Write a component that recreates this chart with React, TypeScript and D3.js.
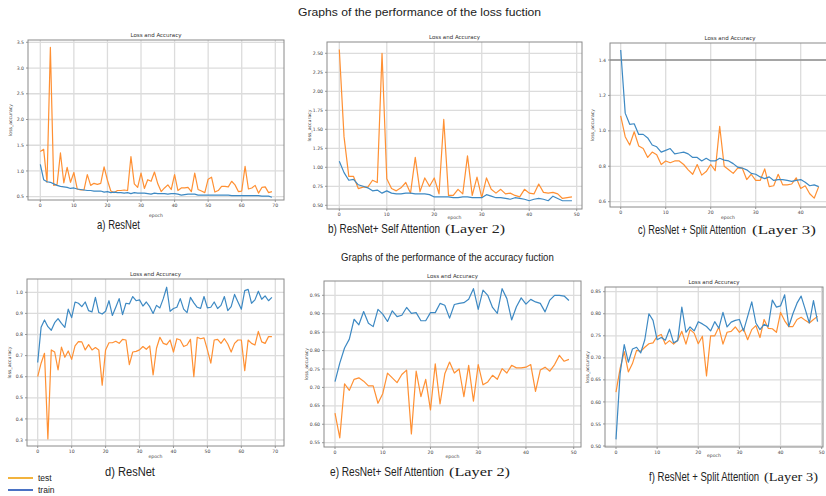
import React, {useLayoutEffect, useRef, useState} from 'react'
import * as d3 from 'd3'

// a) ResNet loss, 70 epochs
const lossResTrain = [1.13,0.83,0.79,0.78,0.75,0.72,0.70,0.69,0.68,0.66,0.67,0.65,0.64,0.63,0.62,0.62,0.61,0.61,0.61,0.59,0.60,0.58,0.59,0.58,0.58,0.57,0.58,0.56,0.58,0.57,0.57,0.57,0.56,0.55,0.57,0.56,0.56,0.56,0.55,0.56,0.56,0.55,0.53,0.54,0.55,0.55,0.55,0.53,0.53,0.53,0.53,0.53,0.53,0.53,0.53,0.53,0.53,0.52,0.52,0.52,0.52,0.52,0.52,0.52,0.52,0.52,0.51,0.51,0.51,0.49]
const lossResTest = [1.38,1.42,0.78,3.4,0.72,0.74,1.35,0.77,1.07,0.78,0.97,0.65,0.63,0.63,0.93,0.72,0.76,0.74,0.76,1.08,0.82,0.61,0.58,0.62,0.62,0.63,0.62,1.28,0.75,0.68,0.96,0.66,0.83,0.80,0.98,0.75,0.60,0.67,0.73,0.64,0.93,0.62,0.67,0.67,0.68,0.60,0.96,0.64,0.61,0.58,0.84,0.88,0.59,0.62,0.70,0.70,0.69,0.80,0.73,0.60,0.61,1.09,0.65,0.67,0.72,0.57,0.68,0.69,0.58,0.60]

// b) ResNet + Self Attention loss, 50 epochs
const lossSelfTrain = [1.08,0.93,0.83,0.84,0.77,0.75,0.73,0.69,0.70,0.66,0.69,0.66,0.65,0.65,0.66,0.66,0.65,0.65,0.65,0.64,0.61,0.61,0.61,0.61,0.60,0.60,0.61,0.61,0.60,0.60,0.60,0.64,0.62,0.60,0.60,0.59,0.58,0.60,0.59,0.58,0.56,0.58,0.59,0.58,0.56,0.62,0.59,0.56,0.56,0.56]
const lossSelfTest = [2.55,1.40,0.88,0.88,0.72,0.74,0.74,0.83,0.80,2.50,0.85,0.72,0.69,0.73,0.80,0.66,1.13,0.68,0.86,0.75,0.86,0.65,1.63,0.63,0.63,0.71,0.65,1.15,0.63,0.87,0.60,0.86,0.71,0.66,0.71,0.65,0.66,0.63,0.61,0.71,0.66,0.65,0.78,0.67,0.66,0.67,0.65,0.59,0.60,0.61]

// c) ResNet + Split Attention loss, 45 epochs
const lossSplitTrain = [1.456,1.10,1.037,1.04,0.98,0.98,0.96,0.92,0.91,0.88,0.89,0.90,0.87,0.875,0.88,0.87,0.85,0.85,0.83,0.845,0.83,0.83,0.845,0.835,0.83,0.815,0.795,0.79,0.78,0.76,0.755,0.74,0.73,0.74,0.72,0.725,0.725,0.72,0.715,0.72,0.725,0.71,0.69,0.695,0.685]
const lossSplitTest = [1.085,0.967,0.92,0.995,0.915,0.90,0.85,0.88,0.865,0.81,0.83,0.82,0.83,0.83,0.81,0.78,0.755,0.81,0.75,0.77,0.81,0.775,1.025,0.80,0.78,0.76,0.79,0.79,0.725,0.755,0.72,0.72,0.785,0.685,0.69,0.755,0.695,0.695,0.70,0.735,0.675,0.69,0.645,0.62,0.685]

// d) ResNet accuracy, 70 epochs
const accResTrain = [0.667,0.834,0.869,0.837,0.82,0.856,0.875,0.853,0.834,0.92,0.88,0.954,0.948,0.932,0.954,0.913,0.907,0.976,0.904,0.897,0.91,0.96,0.89,0.929,0.97,0.894,0.948,0.945,0.98,0.96,0.964,0.935,0.954,0.932,0.90,0.938,0.926,0.97,1.024,0.91,0.923,0.929,0.97,0.92,0.904,0.976,0.95,0.929,0.924,0.98,0.926,0.929,0.954,0.923,0.938,0.98,0.913,0.932,0.99,0.954,0.92,1.008,1.014,0.948,0.964,1.005,0.967,0.983,0.96,0.976]
const accResTest = [0.60,0.664,0.711,0.305,0.727,0.717,0.632,0.74,0.692,0.722,0.682,0.746,0.766,0.765,0.727,0.752,0.727,0.738,0.727,0.56,0.727,0.761,0.761,0.768,0.758,0.777,0.774,0.657,0.717,0.72,0.727,0.743,0.73,0.746,0.608,0.735,0.787,0.758,0.752,0.774,0.717,0.78,0.774,0.743,0.75,0.777,0.60,0.787,0.78,0.784,0.727,0.664,0.774,0.777,0.758,0.78,0.755,0.717,0.758,0.774,0.774,0.629,0.774,0.758,0.75,0.815,0.765,0.758,0.79,0.79]

// e) ResNet + Self Attention accuracy, 50 epochs
const accSelfTrain = [0.716,0.766,0.807,0.831,0.885,0.87,0.906,0.874,0.865,0.912,0.899,0.879,0.908,0.892,0.896,0.917,0.901,0.903,0.881,0.881,0.903,0.903,0.928,0.923,0.888,0.925,0.928,0.93,0.939,0.968,0.912,0.964,0.95,0.917,0.901,0.968,0.941,0.883,0.919,0.943,0.926,0.939,0.932,0.928,0.905,0.937,0.95,0.95,0.948,0.936]
const accSelfTest = [0.63,0.563,0.71,0.692,0.722,0.726,0.717,0.704,0.704,0.657,0.683,0.739,0.726,0.713,0.735,0.747,0.574,0.744,0.675,0.722,0.639,0.764,0.655,0.737,0.769,0.739,0.75,0.675,0.76,0.663,0.762,0.707,0.715,0.733,0.722,0.751,0.739,0.76,0.753,0.753,0.755,0.762,0.689,0.747,0.755,0.744,0.762,0.787,0.771,0.776]

// f) ResNet + Split Attention accuracy, 50 epochs
const accSplitTrain = [0.515,0.664,0.73,0.69,0.72,0.724,0.711,0.741,0.80,0.785,0.741,0.746,0.74,0.765,0.734,0.739,0.815,0.758,0.77,0.761,0.782,0.777,0.771,0.761,0.782,0.767,0.803,0.77,0.781,0.785,0.787,0.761,0.794,0.827,0.779,0.764,0.776,0.771,0.831,0.815,0.818,0.843,0.771,0.80,0.824,0.84,0.81,0.779,0.83,0.782]
const accSplitTest = [0.622,0.676,0.714,0.668,0.687,0.717,0.715,0.724,0.732,0.734,0.749,0.753,0.731,0.739,0.731,0.74,0.76,0.731,0.764,0.756,0.732,0.749,0.659,0.75,0.75,0.77,0.731,0.758,0.76,0.77,0.758,0.766,0.741,0.764,0.773,0.746,0.787,0.767,0.766,0.758,0.803,0.784,0.771,0.771,0.787,0.792,0.785,0.779,0.787,0.794]

const xTicks70 = [0,10,20,30,40,50,60,70]
const xTicks50 = [0,10,20,30,40,50]
const xTicks40 = [0,10,20,30,40]

const BLUE = '#3d89c3'
const ORANGE = '#ff9033'
const GRID = '#dcdcdc'
const SMALL = 'DejaVu Sans, sans-serif'
const SANS = 'Liberation Sans, Arial, sans-serif'

const Panel = ({box, xd, xr, yd, yr, xTicks, yTicks, fmt, train, test, darkY, epochY, epochX}) => {
  const x = d3.scaleLinear().domain(xd).range(xr)
  const y = d3.scaleLinear().domain(yd).range(yr)
  const line = d3.line().x((d, i) => x(i)).y(d => y(d))
  const cx = epochX ?? (box.x0 + box.x1) / 2
  const plotCx = (box.x0 + box.x1) / 2
  return (
    <g>
      <defs>
        <clipPath id={`clip${box.x0}${box.y0}`}>
          <rect x={box.x0} y={box.y0} width={box.x1 - box.x0} height={box.y1 - box.y0}/>
        </clipPath>
      </defs>
      <rect x={box.x0} y={box.y0} width={box.x1 - box.x0} height={box.y1 - box.y0} fill="white"/>
      {xTicks.map((t, i) =>
        <g key={'x' + i}>
          <line x1={x(t)} x2={x(t)} y1={box.y0} y2={box.y1} stroke={GRID} strokeWidth={1.3}/>
          <line x1={x(t)} x2={x(t)} y1={box.y1} y2={box.y1 + 2} stroke="#555" strokeWidth={0.6}/>
          <text x={x(t)} y={box.y1 + 7} fontSize={4.6} textAnchor="middle" fill="#444" fontFamily={SMALL}>{t}</text>
        </g>
      )}
      {yTicks.map((t, i) =>
        <g key={'y' + i}>
          <line x1={box.x0} x2={box.x1} y1={y(t)} y2={y(t)} stroke={GRID} strokeWidth={1.3}/>
          <line x1={box.x0 - 2} x2={box.x0} y1={y(t)} y2={y(t)} stroke="#555" strokeWidth={0.6}/>
          <text x={box.x0 - 4} y={y(t)} dy="0.35em" fontSize={4.6} textAnchor="end" fill="#444" fontFamily={SMALL}>{d3.format(fmt)(t)}</text>
        </g>
      )}
      {darkY !== undefined &&
        <line x1={box.x0} x2={box.x1} y1={y(darkY)} y2={y(darkY)} stroke="#666" strokeWidth={1}/>}
      <g clipPath={`url(#clip${box.x0}${box.y0})`}>
        <path d={line(test)} fill="none" stroke={ORANGE} strokeWidth={1.2} strokeLinejoin="round"/>
        <path d={line(train)} fill="none" stroke={BLUE} strokeWidth={1.2} strokeLinejoin="round"/>
      </g>
      <rect x={box.x0} y={box.y0} width={box.x1 - box.x0} height={box.y1 - box.y0} fill="none" stroke="#8a8a8a" strokeWidth={1}/>
      <text x={plotCx} y={box.y0 - 3} fontSize={5.5} textAnchor="middle" fill="#333" fontFamily={SMALL}>Loss and Accuracy</text>
      <text x={cx} y={epochY} fontSize={4.6} textAnchor="middle" fill="#444" fontFamily={SMALL}>epoch</text>
      <text transform={`translate(${box.x0 - 16},${(box.y0 + box.y1) / 2}) rotate(-90)`} fontSize={4.6} textAnchor="middle" fill="#444" fontFamily={SMALL}>loss_accuracy</text>
    </g>
  )
}

// text squeezed horizontally (by a transform) so it spans the measured width
const Narrow = ({x, y, width, family, size, children}) => {
  const ref = useRef(null)
  const [sx, setSx] = useState(0.8)
  useLayoutEffect(() => {
    const w = ref.current.getComputedTextLength()
    if (w > 0) setSx(width / w)
  }, [width])
  return (
    <text ref={ref} transform={`translate(${x},${y}) scale(${sx},1)`} fontFamily={family} fontSize={size} fill="#222">{children}</text>
  )
}

const Caption = ({x, y, w1, main, x2, w2, layer}) => (
  <g>
    <Narrow x={x} y={y} width={w1} family={SANS} size={12}>{main}</Narrow>
    {layer && <Narrow x={x2} y={y} width={w2} family="Liberation Serif, serif" size={13.5}>{layer}</Narrow>}
  </g>
)

export default function App() {
  return (
    <svg width={826} height={496} style={{position: 'absolute', left: 0, top: 0, background: 'white'}}>
      <Narrow x={298} y={16} width={243} family={SANS} size={11.5}>Graphs of the performance of the loss fuction</Narrow>
      <Narrow x={341} y={261} width={213} family={SANS} size={11}>Graphs of the performance of the accuracy fuction</Narrow>

      <Panel box={{x0: 28, x1: 284, y0: 40, y1: 200}} xd={[0, 70]} xr={[40.3, 275.3]} yd={[0.5, 3.5]} yr={[196.7, 42.3]} epochY={216.5}
        xTicks={xTicks70} yTicks={[0.5, 1, 1.5, 2, 2.5, 3, 3.5]} fmt=".1f" train={lossResTrain} test={lossResTest}/>
      <Panel box={{x0: 327, x1: 582, y0: 42, y1: 209}} xd={[0, 50]} xr={[339.3, 576.7]} yd={[0.5, 2.5]} yr={[205.3, 53.3]} epochY={219}
        xTicks={xTicks50} yTicks={[0.5, 0.75, 1, 1.25, 1.5, 1.75, 2, 2.25, 2.5]} fmt=".2f" train={lossSelfTrain} test={lossSelfTest}/>
      <Panel box={{x0: 610, x1: 850, y0: 43, y1: 207}} xd={[0, 40]} xr={[620.7, 800.7]} yd={[0.6, 1.4]} yr={[201.7, 60]} epochY={218.5} epochX={728}
        xTicks={xTicks40} yTicks={[0.6, 0.8, 1.0, 1.2, 1.4]} fmt=".1f" train={lossSplitTrain} test={lossSplitTest} darkY={1.4}/>

      <Panel box={{x0: 27, x1: 284, y0: 279, y1: 446}} xd={[0, 70]} xr={[37.7, 275.3]} yd={[0.3, 1.0]} yr={[440, 292.3]} epochY={457.5}
        xTicks={xTicks70} yTicks={[0.3, 0.4, 0.5, 0.6, 0.7, 0.8, 0.9, 1.0]} fmt=".1f" train={accResTrain} test={accResTest}/>
      <Panel box={{x0: 324, x1: 581, y0: 281, y1: 447}} xd={[0, 50]} xr={[335, 573.7]} yd={[0.55, 0.95]} yr={[442.7, 295.3]} epochY={457.5}
        xTicks={xTicks50} yTicks={[0.55, 0.6, 0.65, 0.7, 0.75, 0.8, 0.85, 0.9, 0.95]} fmt=".2f" train={accSelfTrain} test={accSelfTest}/>
      <Panel box={{x0: 605, x1: 823, y0: 287, y1: 447}} xd={[0, 50]} xr={[616, 821.7]} yd={[0.5, 0.85]} yr={[446, 291.7]} epochY={456.5}
        xTicks={xTicks50} yTicks={[0.5, 0.55, 0.6, 0.65, 0.7, 0.75, 0.8, 0.85]} fmt=".2f" train={accSplitTrain} test={accSplitTest}/>

      <Caption x={97} y={229} w1={43} main="a) ResNet"/>
      <Caption x={328} y={233} w1={112} main="b) ResNet+ Self Attention" x2={445} w2={60} layer="(Layer 2)"/>
      <Caption x={638} y={234} w1={108} main="c) ResNet + Split Attention" x2={752} w2={64} layer="(Layer 3)"/>
      <Caption x={105} y={476} w1={50} main="d)  ResNet"/>
      <Caption x={330} y={476} w1={114} main="e)  ResNet+ Self Attention" x2={449} w2={61} layer="(Layer 2)"/>
      <Caption x={649} y={481} w1={110} main="f)  ResNet + Split Attention" x2={764} w2={54} layer="(Layer 3)"/>

      <line x1={8} x2={33} y1={478} y2={478} stroke="#f2b33d" strokeWidth={2}/>
      <text x={38} y={481} fontSize={8.5} fontFamily={SANS} fill="#222">test</text>
      <line x1={8} x2={33} y1={490} y2={490} stroke="#4a72c4" strokeWidth={2}/>
      <text x={38} y={493} fontSize={8.5} fontFamily={SANS} fill="#222">train</text>
    </svg>
  )
}
